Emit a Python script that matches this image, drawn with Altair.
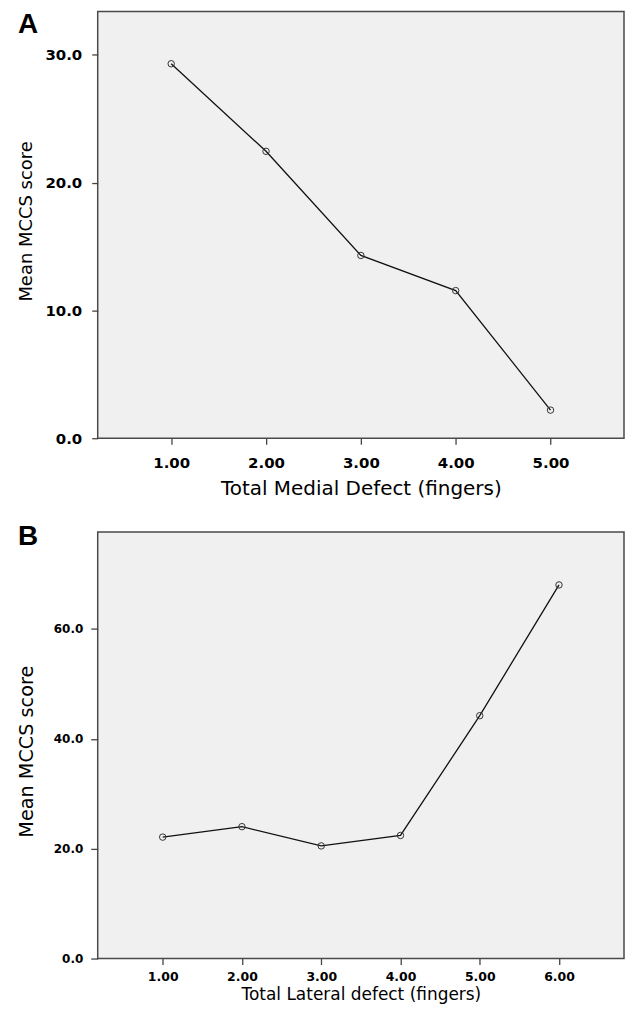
import altair as alt
import pandas as pd

# Panel A data
medial_x = [1, 2, 3, 4, 5]
medial_y = [29.3, 22.45, 14.3, 11.55, 2.2]
a_xticks = [1, 2, 3, 4, 5]
a_yticks = [0, 10, 20, 30]

# Panel B data
lateral_x = [1, 2, 3, 4, 5, 6]
lateral_y = [22.1, 24.0, 20.5, 22.4, 44.2, 68.0]
b_xticks = [1, 2, 3, 4, 5, 6]
b_yticks = [0, 20, 40, 60]

FONT = "DejaVu Sans"

dfA = pd.DataFrame({"x": medial_x, "y": medial_y})
dfB = pd.DataFrame({"x": lateral_x, "y": lateral_y})


def panel(df, xticks, yticks, xdom, ydom, xtitle, letter, letter_y,
          xlab, ylab, xtitle_size, ytitle_size, xlabpad, ylabpad,
          ytick, xtitlepad, ytitlepad, ytitle_y):
    xenc = alt.X("x:Q", scale=alt.Scale(domain=xdom, nice=False, zero=False),
                 axis=alt.Axis(values=xticks, format=".2f", title=xtitle,
                               labelFontSize=xlab, labelPadding=xlabpad,
                               titleFontSize=xtitle_size, titlePadding=xtitlepad,
                               tickSize=6))
    yenc = alt.Y("y:Q", scale=alt.Scale(domain=ydom, nice=False, zero=True),
                 axis=alt.Axis(values=yticks, format=".1f", title="Mean MCCS score",
                               labelFontSize=ylab, labelPadding=ylabpad,
                               titleFontSize=ytitle_size, titlePadding=ytitlepad,
                               titleY=ytitle_y, tickSize=ytick))
    base = alt.Chart(df)
    line = base.mark_line(color="#111111", strokeWidth=1.3).encode(x=xenc, y=yenc)
    pts = base.mark_point(shape="circle", filled=False, size=42, color="#333333",
                          strokeWidth=1, opacity=1).encode(x=xenc, y=yenc)
    lab = alt.Chart(pd.DataFrame({"t": [letter]})).mark_text(
        font="Liberation Sans", fontWeight="bold", fontSize=28,
        align="left", baseline="top", color="black"
    ).encode(text="t:N", x=alt.value(-80), y=alt.value(letter_y))
    return alt.layer(line, pts, lab).properties(width=528, height=428)


A = panel(dfA, a_xticks, a_yticks, [0.225, 5.775], [0, 33.38],
          "Total Medial Defect (fingers)", "A", -1,
          15, 15, 20, 18, 11, 10, 6, 8, 9, 210)
B = panel(dfB, b_xticks, b_yticks, [0.18, 6.82], [0, 77.65],
          "Total Lateral defect (fingers)", "B", -9,
          12.5, 12, 17, 19.3, 6, 8, 7, 4, 17, 220)

chart = alt.concat(A, B, columns=1, spacing=23, align="each").properties(
    padding={"left": 8, "top": 0, "right": 0, "bottom": 0},
    background="white",
).configure_view(
    fill="#f0f0f0", stroke="#4a4a4a", strokeWidth=1.5
).configure_axis(
    domain=False, grid=False, tickColor="#444444", tickWidth=1.3,
    labelFont=FONT, labelFontWeight="bold", labelColor="black",
    titleFont=FONT, titleFontWeight="normal", titleColor="black",
)

chart.save("out.html", embed_options={"renderer": "svg", "actions": False})
